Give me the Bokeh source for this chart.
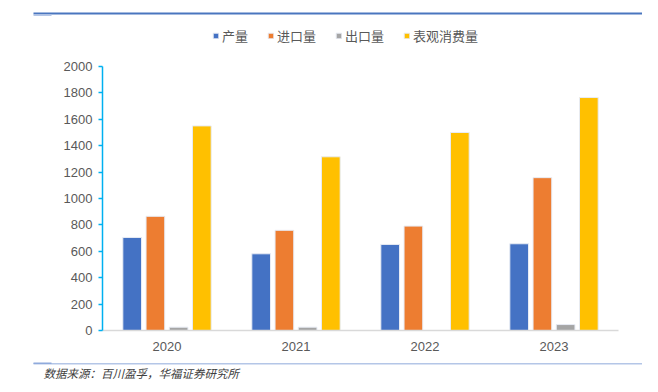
from bokeh.plotting import figure
from bokeh.models import (Legend, LegendItem, FixedTicker, ColumnDataSource, LinearAxis,
                          BoxAnnotation, Label, Range1d)
from bokeh.transform import dodge
from bokeh.embed import file_html
from bokeh.resources import INLINE

years = ["2020", "2021", "2022", "2023"]
production = [705, 581, 652, 657]
imports = [865, 759, 791, 1158]
exports = [25, 25, 0, 45]
consumption = [1550, 1316, 1500, 1765]
series_names = ["产量", "进口量", "出口量", "表观消费量"]
colors = ["#4472C4", "#ED7D31", "#A5A5A5", "#FFC000"]
y_ticks = [0, 200, 400, 600, 800, 1000, 1200, 1400, 1600, 1800, 2000]
source_note = "数据来源：百川盈孚，华福证券研究所"

# ---- canvas geometry (pixels) ----
W, H = 642, 384
plot_left, plot_right = 102, 618      # x positions of category 0 .. n
plot_top, plot_bottom = 66, 330       # y positions of 2000 .. 0
n = len(years)
ymax = 2000.0
ppx = (plot_right - plot_left) / n            # px per category
ppy = (plot_bottom - plot_top) / ymax         # px per unit
x_start = -plot_left / ppx
x_end = n + (W - plot_right) / ppx
y_end = ymax + plot_top / ppy
y_start = -(H - plot_bottom) / ppy


def px_x(px):
    return (px - plot_left) / ppx


def px_y(py):
    return (plot_bottom - py) / ppy


centers = [i + 0.5 for i in range(n)]
src = ColumnDataSource(dict(xc=centers, s0=production, s1=imports, s2=exports, s3=consumption))

p = figure(width=W, height=H, x_range=Range1d(x_start, x_end), y_range=Range1d(y_start, y_end),
           output_backend="svg", toolbar_location=None,
           x_axis_location=None, y_axis_location=None,
           min_border_left=0, min_border_right=0, min_border_top=0, min_border_bottom=0)
p.outline_line_color = None
p.grid.visible = False
p.background_fill_color = "white"
p.border_fill_color = "white"

offsets = [-0.27, -0.09, 0.09, 0.27]
renderers = []
for i, off in enumerate(offsets):
    r = p.vbar(x=dodge("xc", off), top="s%d" % i, width=0.145,
               source=src, fill_color=colors[i], line_color="#E8ECF4", line_width=1)
    renderers.append(r)

# y axis, fixed at the left edge of the data area
yax = LinearAxis(fixed_location=0, bounds=(0, 2000), ticker=FixedTicker(ticks=y_ticks))
yax.axis_line_color = "#00B0F0"
yax.axis_line_width = 1.5
yax.major_tick_line_color = "#00B0F0"
yax.major_tick_line_width = 1.5
yax.major_tick_out = 4
yax.major_tick_in = 0
yax.minor_tick_line_color = None
yax.major_label_text_font = "Liberation Sans"
yax.major_label_text_font_size = "13px"
yax.major_label_text_color = "#595959"
yax.major_label_standoff = 6
p.add_layout(yax, "left")

# x axis, fixed at y = 0
xax = LinearAxis(fixed_location=0, bounds=(0, n), ticker=FixedTicker(ticks=centers))
xax.major_label_overrides = {c: y for c, y in zip(centers, years)}
xax.axis_line_color = "#D9D9D9"
xax.axis_line_width = 1.5
xax.major_tick_line_color = None
xax.minor_tick_line_color = None
xax.major_label_text_font = "Liberation Sans"
xax.major_label_text_font_size = "13px"
xax.major_label_text_color = "#595959"
xax.major_label_standoff = 5
p.add_layout(xax, "below")

legend = Legend(items=[LegendItem(label=series_names[i], renderers=[renderers[i]]) for i in range(4)],
                orientation="horizontal", location=(212, H - 45),
                glyph_width=7, glyph_height=7, label_standoff=3, spacing=19,
                padding=0, margin=0, border_line_color=None, background_fill_alpha=0,
                label_text_font="Noto Sans CJK SC", label_text_font_size="13px",
                label_text_color="#595959")
p.add_layout(legend, "center")

# decorative rules
p.add_layout(BoxAnnotation(left=px_x(33), right=None, top=px_y(12), bottom=px_y(14),
                           fill_color="#4A76BF", fill_alpha=1, line_color=None))
p.add_layout(BoxAnnotation(left=px_x(33), right=px_x(51), top=px_y(14), bottom=px_y(15.5),
                           fill_color="#B4C6E7", fill_alpha=1, line_color=None))
p.add_layout(BoxAnnotation(left=px_x(33), right=None, top=px_y(362.5), bottom=px_y(364),
                           fill_color="#B4C6E7", fill_alpha=1, line_color=None))
p.add_layout(BoxAnnotation(left=px_x(33), right=px_x(51), top=px_y(362), bottom=px_y(363.5),
                           fill_color="#8FAADC", fill_alpha=1, line_color=None))

p.add_layout(Label(x=px_x(43), y=px_y(372), text=source_note, text_font="Noto Sans CJK SC",
                   text_font_size="11.5px", text_font_style="italic", text_color="#404040",
                   text_baseline="middle"))

open("out.html", "w").write(file_html(p, INLINE))
